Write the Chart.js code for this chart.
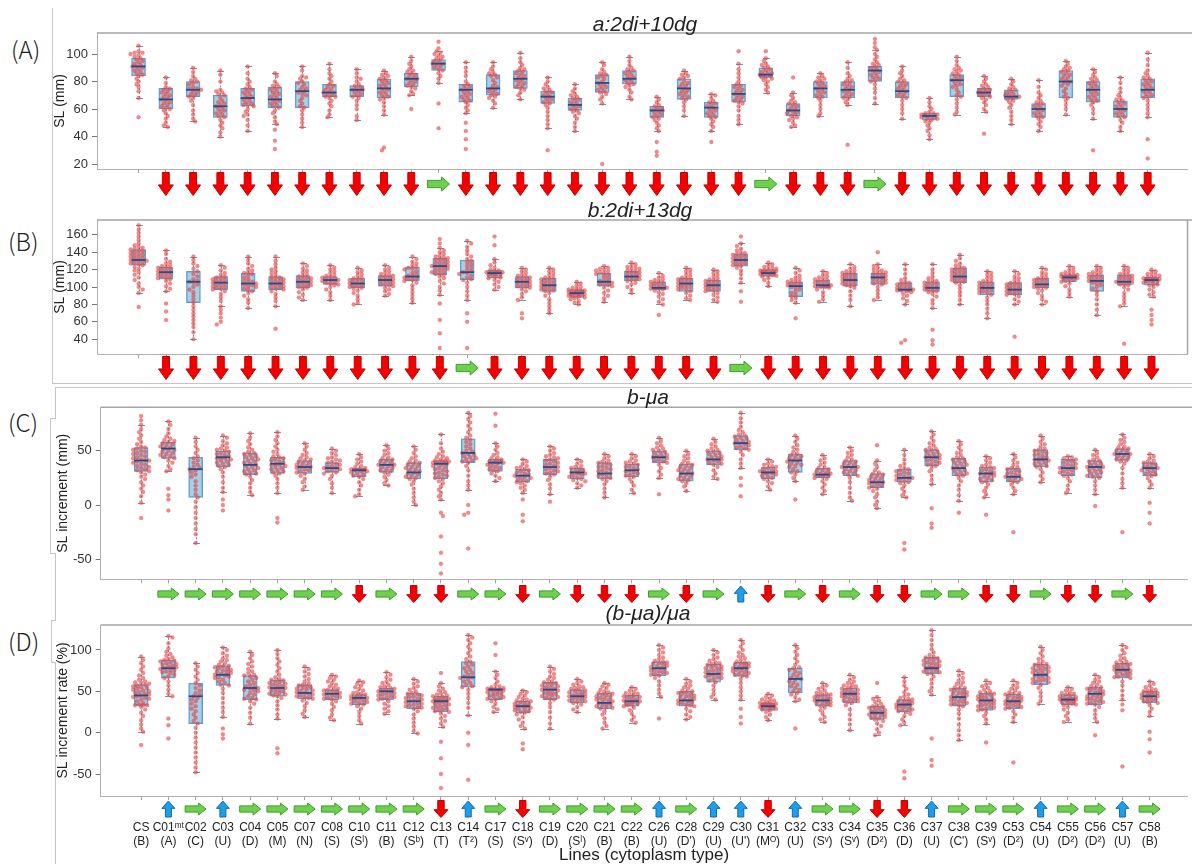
<!DOCTYPE html>
<html>
<head>
<meta charset="utf-8">
<script src="https://cdn.jsdelivr.net/npm/chart.js@4.4.1/dist/chart.umd.min.js"></script>
<style>
  html, body { margin: 0; padding: 0; background: #fff; }
  body { width: 1192px; height: 864px; position: relative; overflow: hidden; font-family: "Liberation Sans", Arial, sans-serif; }
  canvas { position: absolute; left: 0; }
  .plab { position: absolute; font-family: "Noto Sans CJK JP", "Noto Sans", sans-serif; font-weight: 300; font-size: 24px; color: #222; line-height: 1; }
  .ln { position: absolute; background: #c6c6c6; }
</style>
</head>
<body>
<div class="ln" style="left:52px;top:8px;width:1px;height:375px"></div>
<div class="ln" style="left:52px;top:383px;width:1140px;height:1px"></div>
<div class="ln" style="left:55px;top:387px;width:1137px;height:1px"></div>
<div class="ln" style="left:55px;top:387px;width:1px;height:31px"></div>
<div class="ln" style="left:50px;top:418px;width:6px;height:1px"></div>
<div class="ln" style="left:50px;top:418px;width:1px;height:135px"></div>
<div class="ln" style="left:50px;top:553px;width:6px;height:1px"></div>
<div class="ln" style="left:55px;top:553px;width:1px;height:67px"></div>
<div class="ln" style="left:51px;top:620px;width:5px;height:1px"></div>
<div class="ln" style="left:51px;top:620px;width:1px;height:42px"></div>
<div class="ln" style="left:51px;top:662px;width:5px;height:1px"></div>
<div class="ln" style="left:55px;top:662px;width:1px;height:202px"></div>

<div class="plab" style="left:11px;top:37px">(A)</div>
<div class="plab" style="left:8px;top:229px">(B)</div>
<div class="plab" style="left:8px;top:410px">(C)</div>
<div class="plab" style="left:8px;top:629px">(D)</div>

<canvas id="pA" width="1192" height="205" style="top:0px"></canvas>
<canvas id="pB" width="1192" height="195" style="top:195px"></canvas>
<canvas id="pC" width="1192" height="230" style="top:385px"></canvas>
<canvas id="pD" width="1192" height="272" style="top:600px"></canvas>

<script>
// Lines and their cytoplasm types
const cats = ['CS','C01ᵐᵗ','C02','C03','C04','C05','C07','C08','C10','C11','C12','C13','C14','C17','C18','C19','C20','C21','C22','C26','C28','C29','C30','C31','C32','C33','C34','C35','C36','C37','C38','C39','C53','C54','C55','C56','C57','C58'];
const cytoTypes = ['(B)','(A)','(C)','(U)','(D)','(M)','(N)','(S)','(Sˡ)','(B)','(Sᵇ)','(T)','(T²)','(S)','(Sᵛ)','(D)','(Sˡ)','(B)','(B)','(U)',"(D')",'(U)',"(U')",'(Mᴼ)','(U)','(Sᵛ)','(Sᵛ)','(D²)','(D)','(U)',"(C')",'(Sᵛ)','(D²)','(U)','(D²)','(D²)','(U)','(B)'];

// y tick values per panel
const ticksA = [20, 40, 60, 80, 100];
const ticksB = [40, 60, 80, 100, 120, 140, 160];
const ticksC = [-50, 0, 50];
const ticksD = [-50, 0, 50, 100];

// Arrow marks under each line: d = down, r = right, u = up
const arrowsA = ['','d','d','d','d','d','d','d','d','d','d','r','d','d','d','d','d','d','d','d','d','d','d','r','d','d','d','r','d','d','d','d','d','d','d','d','d','d'];
const arrowsB = ['','d','d','d','d','d','d','d','d','d','d','d','r','d','d','d','d','d','d','d','d','d','r','d','d','d','d','d','d','d','d','d','d','d','d','d','d','d'];
const arrowsC = ['','r','r','r','r','r','r','r','d','r','d','d','r','r','d','r','d','d','d','r','d','r','u','d','r','d','r','d','d','r','r','d','d','r','d','d','r','d'];
const arrowsD = ['','u','r','u','r','r','r','r','r','r','r','d','u','r','d','r','r','r','r','u','r','u','u','d','u','r','r','d','d','u','r','r','r','u','r','r','u','r'];

// (A) a: 2di+10dg, SL (mm): whisker ends, quartiles, medians
const lowA  = [68,47,51,40,44,49,47,54,52,56,70,79,57,61,67,46,44,64,67,44,55,44,49,72,47,55,63,64,53,38,56,58,49,44,56,53,44,54];
const q1A   = [84,60,69,54,62,61,61,69,69,68,76,88,65,70,75,64,59,72,78,54,67,54,65,83,55,68,68,80,68,52,69,69,67,54,68,65,54,68];
const medA  = [91,67,74,62,68,67,73,72,74,75,82,93,74,75,82,69,63,79,82,59,75,61,71,85,59,75,74,88,73,55,81,72,69,60,80,74,60,74];
const q3A   = [97,75,80,70,75,76,80,78,77,82,86,96,78,85,88,73,68,85,88,62,82,65,78,90,64,80,80,91,80,57,85,75,74,64,88,80,66,82];
const highA = [106,83,90,88,91,86,91,93,89,88,98,102,94,94,101,83,78,94,98,69,88,71,93,97,72,86,94,103,91,68,98,84,82,81,95,89,83,101];
const ptsA = [
  [106,102,101,101,100,99,98,97,96,95,94,93,92,91,91,90,89,88,87,86,85,84,82,80,78,76,73,68,54],
  [83,79,76,75,74,73,72,71,70,69,68,67,66,65,64,63,62,61,60,59,57,55,53,50,48,47],
  [90,87,84,82,81,80,79,78,76,75,75,74,73,72,71,70,69,68,66,63,59,56,53,51],
  [88,85,80,74,73,72,71,70,68,66,65,64,63,62,61,60,59,58,57,56,55,54,52,50,48,46,43,40],
  [91,86,82,80,78,76,75,74,73,72,71,70,69,68,67,66,65,64,63,63,62,60,58,56,55,52,48,44],
  [86,84,80,78,77,76,75,74,73,72,71,70,69,68,67,66,65,64,63,62,61,59,57,54,51,49,45,37,31],
  [91,88,84,83,82,80,79,78,76,75,74,73,72,71,70,68,66,64,62,61,59,56,53,50,47],
  [93,89,86,84,82,80,78,77,76,75,74,73,72,72,71,70,69,69,68,66,64,62,59,56,54],
  [89,86,83,82,80,78,77,76,75,74,74,73,72,71,70,69,68,66,63,60,55,52],
  [88,86,85,84,83,82,81,80,79,78,77,76,75,74,73,72,71,70,69,68,67,65,62,59,56,32,30],
  [98,95,93,91,89,88,87,86,85,84,83,82,82,81,80,79,78,77,76,75,73,71,70,60],
  [109,104,102,101,100,99,98,97,96,95,94,93,93,92,91,90,89,88,86,84,82,79,64,46],
  [94,90,87,84,80,78,77,76,75,74,73,72,71,70,69,68,67,66,65,63,61,59,57,50,44,38,31],
  [94,91,89,87,86,85,84,83,81,79,77,76,75,74,73,72,71,70,69,68,66,64,61],
  [101,97,94,92,90,89,88,87,86,85,84,83,82,81,80,79,78,77,76,75,74,72,70,67],
  [83,80,78,76,75,74,73,72,71,70,69,68,67,66,65,64,63,61,58,55,52,49,46,30],
  [78,75,73,71,70,69,68,67,66,65,64,63,62,61,60,59,58,57,55,53,50,47,44],
  [94,92,89,87,86,85,84,83,82,80,79,78,77,76,75,74,73,72,71,69,67,64,20],
  [98,95,92,90,89,88,87,86,85,84,83,82,81,80,79,78,77,76,74,72,69,67],
  [69,67,65,63,62,61,60,59,59,58,57,56,55,54,53,52,50,48,46,44,36,29,26],
  [88,86,85,84,83,82,80,79,78,77,76,75,74,73,72,71,70,69,68,67,65,62,59,55],
  [71,70,68,66,65,64,63,62,61,60,59,58,57,56,55,54,53,51,49,47,44,36],
  [102,93,89,86,83,80,78,77,76,75,74,73,72,71,70,69,68,67,66,65,64,62,59,55,52,49],
  [102,97,95,93,92,91,90,89,88,87,86,86,85,85,84,83,83,82,81,80,78,76,74,72],
  [83,72,70,68,66,65,64,63,62,61,60,59,58,58,57,56,55,54,53,52,50,48,47],
  [86,84,83,82,81,80,79,78,77,76,75,74,73,72,71,70,69,68,66,63,60,57,55],
  [94,90,86,84,82,81,80,79,78,77,76,75,74,73,72,71,70,69,68,67,65,63,34],
  [111,108,105,103,100,98,96,94,93,92,91,90,89,88,87,86,85,84,83,82,81,80,78,75,72,68,64],
  [91,88,86,84,82,81,80,79,78,77,76,75,74,73,72,71,70,69,68,66,63,60,57,53],
  [68,65,62,60,58,57,57,56,56,55,55,54,54,53,53,52,51,50,48,46,44,41,38],
  [98,95,92,90,89,88,87,86,85,84,83,82,81,80,79,78,77,76,74,72,70,69,67,64,61,58,56],
  [84,82,80,78,77,76,75,74,74,73,72,72,71,70,70,69,68,67,65,63,60,58,42],
  [82,80,78,76,75,74,73,72,71,70,70,69,69,68,67,66,65,63,61,58,55,52,49],
  [81,76,72,70,68,66,65,64,63,62,61,60,59,58,57,56,55,54,53,51,49,47,44],
  [95,93,91,90,89,88,87,86,85,84,83,82,81,80,79,78,77,75,73,71,69,68,66,63,60,56],
  [89,87,85,83,82,81,80,79,78,77,76,75,74,73,72,71,70,69,68,67,66,65,63,60,57,53,30],
  [83,79,75,72,70,68,67,66,65,64,63,62,61,60,59,58,57,56,55,54,52,50,47,44],
  [101,96,92,88,86,84,83,82,81,80,79,78,77,76,75,74,73,72,71,70,69,68,66,63,60,57,54,38,24]
];

// (B) b: 2di+13dg, SL (mm)
const lowB  = [93,95,40,78,76,78,85,85,80,90,82,91,85,97,85,70,80,83,93,80,85,83,105,101,82,83,78,85,80,76,80,64,80,80,89,68,78,89];
const q1B   = [125,109,82,97,95,97,99,103,99,101,107,114,108,110,99,95,88,101,107,97,95,95,124,112,89,99,101,103,95,95,105,91,91,99,106,95,102,102];
const medB  = [131,117,106,105,104,104,106,108,104,108,112,124,117,116,106,102,93,106,112,99,104,102,131,116,101,102,108,111,97,99,112,99,97,103,111,107,106,108];
const q3B   = [143,123,118,112,116,112,113,112,110,113,123,133,131,119,112,110,97,116,118,106,110,108,138,120,106,108,116,116,105,106,122,106,105,110,114,114,114,111];
const highB = [171,142,135,125,135,135,127,125,122,125,135,145,153,132,122,122,106,124,128,116,122,120,150,128,122,118,126,126,126,126,137,118,118,122,124,124,124,120];
const ptsB = [
  [171,166,162,158,154,150,148,146,145,144,143,142,141,140,139,138,137,136,135,134,133,132,131,130,130,129,128,127,126,125,123,121,119,117,114,111,108,104,100,97,93,77],
  [142,138,132,129,127,125,124,123,122,121,120,119,118,117,116,115,114,113,112,111,110,109,107,104,101,98,95,81,72,62],
  [135,131,127,124,121,118,115,112,109,107,106,105,103,100,97,94,90,86,82,78,74,70,66,62,58,54,48,40],
  [125,122,119,116,114,112,111,110,109,108,107,106,105,104,103,102,101,100,99,98,97,95,92,88,84,78,74,70,65,60,57],
  [135,131,127,124,121,119,117,116,115,113,111,109,107,106,105,104,103,102,101,100,98,97,95,93,90,86,82,76],
  [135,130,126,122,120,118,116,114,112,111,110,109,108,107,106,105,104,103,102,101,100,99,98,97,95,92,88,84,78,52],
  [127,124,121,119,117,115,113,112,111,110,109,108,107,106,105,104,103,102,101,100,99,97,94,91,88,85],
  [125,122,120,118,116,114,113,112,111,110,109,108,108,107,106,105,104,103,102,100,97,94,90,85],
  [122,119,117,115,113,111,110,109,108,107,106,105,104,103,102,101,100,99,98,96,93,90,86,82,80],
  [125,122,120,118,116,115,114,113,112,111,110,109,108,107,106,105,104,103,102,101,99,97,95,92,90],
  [135,132,129,127,125,123,122,121,120,118,116,114,113,112,111,110,109,108,107,105,102,98,94,90,86,82],
  [155,150,145,142,140,138,136,135,134,133,132,131,130,129,128,127,126,125,124,124,123,122,121,120,119,118,117,116,115,114,112,110,107,104,100,96,91,81,62,47,30],
  [153,150,146,142,138,135,132,130,128,126,124,122,120,118,117,116,115,113,111,109,108,105,100,95,90,85,70,60,30],
  [158,148,132,128,125,122,120,119,118,117,117,116,116,115,115,114,113,112,111,110,108,106,103,100,97],
  [122,120,118,116,114,113,112,111,110,109,108,107,106,105,104,103,102,101,100,99,97,95,92,88,85,70,64],
  [122,120,118,116,114,112,111,110,109,108,107,106,105,104,103,102,101,100,99,98,97,96,95,93,90,86,82,78,74,70],
  [106,104,102,100,99,98,97,96,96,95,95,94,94,93,93,92,92,91,91,90,90,89,88,87,86,84,82,80],
  [124,122,121,120,119,118,117,116,115,114,112,110,108,107,106,105,104,103,102,101,99,96,93,90,87,83],
  [128,126,124,123,122,121,120,119,118,117,116,115,114,113,112,111,110,109,108,107,105,103,100,97,93],
  [116,113,111,109,108,107,106,105,104,103,102,101,100,99,99,98,97,96,94,92,89,86,83,80,68],
  [122,120,118,116,114,112,111,110,109,108,107,106,105,104,103,102,101,100,99,98,97,95,93,90,87,85],
  [120,118,116,114,112,110,109,108,107,106,105,104,103,102,101,100,99,98,97,96,95,93,91,88,85,83],
  [158,150,147,144,142,140,139,138,137,136,135,134,133,132,131,130,129,128,127,126,125,124,122,119,115,110,105,95,83],
  [128,126,124,123,122,121,120,119,119,118,118,117,117,116,116,115,115,114,114,113,112,110,108,105,101],
  [122,119,116,113,111,109,108,107,106,105,104,103,102,101,100,99,97,95,93,91,89,87,85,82,64],
  [118,116,114,112,111,110,109,108,107,106,105,104,103,102,102,101,101,100,100,99,97,94,90,86,83],
  [126,123,121,119,118,117,116,115,114,113,112,111,110,109,108,107,106,105,104,103,102,101,99,95,90,85,78],
  [140,126,124,122,120,119,118,117,116,115,114,113,112,111,110,109,108,107,106,105,104,103,100,96,92,88,85],
  [126,120,115,110,108,106,105,104,103,102,101,100,99,98,97,97,96,96,95,94,92,90,87,84,80,39,36],
  [126,120,116,112,110,108,107,106,105,104,103,102,101,100,99,98,97,96,95,94,92,89,85,81,76,51,39,34],
  [137,133,130,127,125,123,122,121,120,119,118,117,116,115,114,113,112,111,110,109,108,107,106,105,102,98,94,90,85,80],
  [118,116,114,112,110,108,107,106,105,104,103,102,101,100,99,98,97,96,95,94,93,91,88,84,80,75,70,64],
  [118,115,112,110,108,106,105,104,103,102,101,100,99,98,97,96,95,94,93,92,91,89,86,83,80,43],
  [122,120,117,115,113,111,110,109,108,107,106,105,104,103,102,101,100,99,98,96,93,90,86,83,80],
  [124,122,120,118,117,116,115,114,114,113,113,112,112,111,111,110,110,109,108,107,106,104,101,97,93,89],
  [124,122,120,118,117,116,115,114,113,112,111,110,109,108,107,106,105,104,102,100,98,95,91,86,80,74,68],
  [124,122,120,118,116,115,114,113,112,111,110,109,108,107,106,106,105,104,103,102,100,97,93,89,85,81,78,35],
  [120,118,116,115,114,113,112,111,110,110,109,109,108,108,107,107,106,105,104,103,102,100,97,94,91,89,74,68,62,57]
];

// (C) b - μa, SL increment (mm)
const lowC  = [2,31,-35,12,9,11,14,11,8,18,0,5,14,22,11,10,16,7,11,25,13,24,34,14,22,10,4,-3,7,19,4,7,10,21,11,10,16,16];
const q1C   = [31,43,7,35,28,29,29,30,26,30,24,24,39,31,21,28,24,24,26,39,22,37,51,24,30,25,27,16,21,36,27,21,21,35,27,25,41,27];
const medC  = [41,52,33,44,37,38,35,34,32,37,30,38,48,39,27,35,30,29,32,44,29,42,57,30,41,28,35,21,25,44,34,29,26,42,34,35,47,34];
const q3C   = [53,58,44,50,48,44,41,39,34,42,39,41,61,42,33,42,34,39,38,50,38,50,64,35,47,34,41,29,33,51,43,35,34,51,42,41,52,39];
const highC = [74,77,62,64,66,67,57,52,47,55,54,65,85,57,42,54,42,47,47,62,50,61,85,42,64,46,53,41,51,68,59,45,47,64,45,51,65,47];
const ptsC = [
  [82,78,74,70,67,64,61,58,56,54,53,52,51,50,49,48,47,46,45,44,43,42,41,41,40,39,38,37,36,35,34,33,32,31,30,28,26,24,21,18,15,12,8,2,-12],
  [77,74,70,66,63,61,60,59,58,57,56,55,54,53,52,51,50,49,48,47,46,45,44,43,41,39,36,33,31,15,9,5,-5],
  [62,58,54,51,48,45,43,41,39,37,35,34,33,32,30,28,26,22,18,14,10,7,3,-2,-7,-12,-17,-22,-27,-35],
  [64,62,59,57,55,53,52,51,50,49,48,47,46,45,44,43,43,42,41,40,39,38,37,36,35,33,30,26,21,16,12,5,0,-5],
  [66,62,59,56,53,51,49,48,47,46,45,44,43,42,41,40,39,38,37,36,35,34,33,32,31,30,29,28,26,23,20,16,12,9],
  [67,63,60,57,54,51,49,47,45,44,43,42,41,40,39,38,37,37,36,35,34,33,32,31,30,29,27,24,20,16,11,-12,-16],
  [57,54,51,48,46,44,43,42,41,40,39,38,37,36,35,35,34,33,32,31,30,29,27,24,21,17,14],
  [52,50,48,46,44,43,42,41,40,39,38,37,36,35,34,34,33,32,31,30,29,27,24,20,16,11],
  [47,44,42,40,38,36,35,34,33,33,32,32,31,31,30,29,28,27,26,24,21,18,14,10,8],
  [55,52,50,48,46,44,43,42,41,40,39,38,37,37,36,35,34,33,32,31,30,28,26,23,20,18],
  [54,51,48,45,43,41,40,39,38,37,36,35,34,33,32,31,30,29,28,27,26,25,24,22,19,15,11,7,3,0],
  [65,57,52,49,47,45,44,43,42,41,41,40,40,39,39,38,38,37,36,35,34,33,32,31,30,29,28,27,26,25,24,22,20,17,14,11,8,5,-7,-10,-29,-44,-54,-63],
  [85,82,79,76,73,70,67,64,62,60,58,56,54,52,50,49,48,47,46,45,44,43,42,41,40,39,36,32,27,22,18,14,0,-7,-9,-40],
  [84,73,57,54,51,48,46,44,43,42,41,40,40,39,39,38,37,36,35,34,33,32,31,29,27,25,22],
  [42,40,38,36,35,34,33,32,31,30,29,28,27,27,26,25,24,23,22,21,20,18,16,14,11,5,-9,-15],
  [54,52,50,48,46,45,44,43,42,41,40,39,38,37,36,35,34,33,32,31,30,29,28,26,23,19,15,10,3],
  [42,40,38,36,35,34,33,32,31,30,30,29,29,28,27,26,25,24,23,22,20,18,16],
  [47,45,43,41,40,39,38,37,36,35,34,33,32,31,30,29,28,27,26,25,24,22,19,15,11,7],
  [47,45,43,41,40,39,38,37,36,35,34,33,32,31,30,29,28,27,26,24,21,18,14,11],
  [62,59,57,55,53,52,51,50,49,48,47,46,45,44,44,43,42,41,40,39,37,34,31,28,25,10],
  [50,47,45,43,41,39,38,37,36,35,34,33,32,31,30,29,28,27,26,25,24,23,22,20,17,13],
  [61,58,56,54,52,51,50,49,48,47,46,45,44,43,42,42,41,40,39,38,37,35,32,29,26,24],
  [85,80,76,72,69,67,65,64,63,62,61,60,59,58,57,57,56,55,54,53,52,51,49,46,42,38,34,25,18,8],
  [42,40,38,37,36,35,34,33,32,31,31,30,30,29,29,28,27,26,25,24,22,20,17,14],
  [64,61,58,55,53,51,49,47,46,45,44,43,42,41,40,39,38,37,36,35,33,31,30,28,25,22,5],
  [46,43,41,39,37,35,34,33,32,31,30,29,29,28,28,27,27,26,25,24,22,19,16,13,10],
  [53,50,48,46,44,42,41,40,39,38,37,36,35,35,34,33,32,31,30,29,28,27,25,21,16,11,7,4],
  [55,41,38,35,32,30,29,28,27,26,25,24,23,22,21,21,20,19,18,17,16,15,13,10,7,3,0,-3],
  [51,46,42,38,36,34,33,32,31,30,29,28,27,26,25,25,24,23,22,21,20,18,15,12,9,7,-35,-41],
  [68,65,62,59,57,55,53,52,51,50,49,48,47,46,45,44,44,43,42,41,40,39,38,37,36,34,31,27,23,19,-3,-17,-21],
  [59,56,53,50,48,46,44,43,42,41,40,39,38,37,36,35,34,33,32,31,30,29,28,27,25,22,18,14,9,4,-7],
  [45,43,41,39,37,36,35,34,33,32,31,30,29,29,28,27,26,25,24,23,22,21,19,16,13,10,7,-9],
  [47,44,41,39,37,35,34,33,32,31,30,29,28,27,26,26,25,24,23,22,21,19,16,13,10,-25],
  [64,61,58,56,54,52,51,50,49,48,47,46,45,44,43,42,42,41,40,39,38,37,36,35,33,30,27,24,21],
  [45,44,43,42,41,40,39,38,37,36,35,34,34,33,32,31,30,29,28,27,25,22,18,14,11],
  [51,48,46,44,42,41,40,39,38,37,36,35,35,34,33,32,31,30,29,28,27,26,25,22,18,14,10,-1],
  [65,62,60,58,56,54,53,52,51,50,49,48,47,47,46,45,44,43,42,41,40,38,34,29,24,20,16,-25],
  [47,45,43,41,40,39,38,37,36,35,34,34,33,32,31,30,29,28,27,25,22,19,16,2,-7,-17]
];

// (D) (b - μa)/μa, SL increment rate (%)
const lowD  = [1,44,-48,19,11,17,19,15,11,23,-1,7,21,25,5,5,25,5,12,43,16,40,40,15,38,13,3,-3,9,46,-9,11,13,35,13,13,40,20];
const q1D   = [33,66,11,57,40,44,41,40,34,40,29,25,55,40,24,40,36,29,32,69,32,61,68,27,48,32,36,16,25,71,32,27,29,58,34,34,66,36];
const medD  = [45,78,44,70,54,54,48,47,42,50,38,38,67,52,32,52,44,36,38,78,39,71,78,32,65,39,47,24,34,78,43,39,38,70,40,47,76,44];
const q3D   = [58,88,60,81,69,64,58,52,46,54,48,44,86,54,38,61,52,48,45,86,50,83,85,36,78,46,54,32,40,91,54,48,47,83,46,55,84,50];
const highD = [92,117,84,103,98,100,80,70,63,73,65,60,118,74,51,80,65,60,55,106,65,100,112,47,106,60,70,43,67,124,75,63,63,104,55,70,106,62];
const ptsD = [
  [92,88,84,80,76,72,69,66,64,62,61,60,59,58,57,56,55,54,53,52,51,50,49,48,47,46,45,44,43,42,41,40,38,36,34,33,33,33,31,28,24,20,15,10,5,1,-15],
  [117,115,108,102,98,95,93,91,89,88,87,86,85,84,83,82,81,80,79,78,77,76,75,74,73,72,70,68,66,62,57,52,47,44,17,9,-7],
  [84,80,76,72,68,64,60,57,54,51,48,46,44,42,40,38,35,32,29,26,22,18,14,11,6,0,-6,-12,-18,-24,-30,-36,-42,-48],
  [103,100,96,93,90,88,86,84,82,81,80,79,78,77,76,75,74,73,72,71,70,69,68,67,66,64,62,60,58,57,53,48,42,36,30,25,19,5,-2,-7],
  [98,94,90,86,83,80,77,74,72,70,69,68,66,64,62,60,58,56,55,54,53,52,51,50,48,46,44,42,41,40,38,35,30,24,18,11],
  [100,95,90,86,82,78,74,70,67,65,64,63,62,61,60,59,58,57,56,55,54,53,52,51,50,49,48,47,46,45,44,42,38,33,28,22,17,-19,-25],
  [80,77,74,71,68,65,62,60,58,57,56,55,54,53,52,51,50,49,48,47,46,45,44,43,42,41,39,36,32,27,23,19],
  [70,68,66,64,62,60,58,56,54,53,52,51,50,49,48,47,46,45,44,43,42,41,40,38,35,31,27,22,18,15],
  [63,61,59,57,55,53,51,49,48,47,46,45,44,43,42,42,41,40,39,38,37,36,35,34,32,29,25,20,15,11],
  [73,70,67,64,62,60,58,56,55,54,53,52,51,50,49,48,47,46,45,44,43,42,41,40,38,35,32,29,26,23],
  [65,62,59,56,54,52,50,48,47,46,45,44,43,42,41,40,39,38,37,36,35,34,33,32,31,30,29,26,22,17,12,7,2,-1],
  [72,60,56,53,51,49,47,46,45,44,43,42,41,40,40,39,39,38,38,37,36,35,34,33,32,31,30,29,28,27,26,25,23,20,17,14,11,7,-11,-31,-50,-67],
  [118,115,112,108,104,100,96,92,89,86,84,82,80,78,76,74,72,70,68,67,66,64,62,60,58,56,55,52,47,42,36,30,21,0,-15,-57],
  [108,94,74,70,66,62,58,56,55,54,53,53,52,52,51,50,49,48,47,46,45,44,43,42,41,40,38,35,31,28,25],
  [51,49,47,45,43,41,40,39,38,37,36,35,34,33,32,32,31,30,29,28,27,26,25,24,22,19,16,12,8,5,-13,-20],
  [80,77,74,71,68,66,64,62,61,60,59,58,57,56,55,54,53,52,51,50,49,48,47,46,45,44,43,42,41,40,36,31,25,18,11,5],
  [65,62,60,58,56,55,54,53,52,51,50,49,48,47,46,45,44,44,43,42,41,40,39,38,37,36,34,31,28,25],
  [60,58,56,54,52,50,49,48,47,46,45,44,43,42,41,40,39,38,37,36,35,34,33,32,31,30,29,26,22,17,12,8,5],
  [55,53,51,49,48,47,46,45,44,43,42,41,40,39,38,37,37,36,35,34,33,32,30,27,23,19,15,12],
  [106,103,100,97,94,91,89,87,86,85,84,83,82,81,80,79,78,77,76,75,74,73,72,71,70,69,66,62,57,52,47,43,17],
  [65,62,59,57,55,53,51,50,49,48,47,46,45,44,43,42,41,40,39,38,37,36,35,34,33,32,29,26,22,19,16],
  [100,97,94,91,89,87,85,84,83,82,81,80,79,78,77,76,75,74,73,72,71,70,69,68,67,66,65,63,61,57,52,47,43,40],
  [112,108,104,100,97,94,92,90,88,86,85,84,83,82,81,80,79,78,78,77,76,75,74,73,72,71,70,69,68,65,60,55,50,45,40,29,19,11],
  [47,45,43,41,40,39,38,37,36,35,35,34,34,33,33,32,32,31,31,30,30,29,28,27,25,22,19,15],
  [106,102,98,94,90,86,82,79,78,76,74,72,70,68,66,65,64,62,60,58,56,54,52,50,48,46,43,40,38,5],
  [60,57,55,53,51,49,48,47,46,45,44,43,42,41,40,39,39,38,37,36,35,34,33,32,30,27,23,19,16,13],
  [70,67,64,62,60,58,57,56,55,54,53,52,51,50,49,48,47,47,46,45,44,43,42,41,40,39,38,37,36,33,28,22,16,10,3],
  [60,43,41,39,37,35,33,32,31,30,29,28,27,26,25,24,24,23,22,21,20,19,18,17,16,14,11,8,4,0,-3],
  [67,62,57,53,49,46,44,42,41,40,39,38,37,36,35,34,34,33,32,31,30,29,28,27,26,25,23,20,16,12,9,-47,-55],
  [124,118,112,106,101,97,94,92,91,90,89,88,87,86,85,84,83,82,81,80,79,78,78,77,76,75,74,73,72,71,68,64,59,54,50,46,-7,-33,-40],
  [75,72,69,66,63,61,59,57,55,54,53,52,51,50,49,48,47,46,45,44,43,42,41,40,39,38,37,36,35,34,33,32,28,23,17,10,3,-3,-9],
  [63,60,58,56,54,52,50,49,48,47,46,45,44,43,42,41,40,39,39,38,37,36,35,34,33,32,31,30,29,28,27,24,20,16,11,-12],
  [63,60,57,55,53,51,49,48,47,46,45,44,43,42,41,40,39,38,38,37,36,35,34,33,32,31,30,29,26,22,18,13,-36],
  [104,100,96,92,89,86,84,83,82,81,80,79,78,77,76,75,74,73,72,71,70,69,68,67,66,65,64,63,62,61,60,58,54,49,44,39,35],
  [55,53,51,49,48,47,46,45,44,43,42,41,41,40,40,39,39,38,37,36,35,34,33,31,28,24,20,16,13],
  [70,67,64,62,60,58,56,55,54,53,52,51,50,49,48,47,46,45,44,43,42,41,40,39,38,37,36,35,34,31,27,22,17,13,-3],
  [106,103,100,96,93,90,88,86,85,84,83,82,81,80,79,78,77,76,76,75,74,73,72,71,70,69,68,67,66,62,57,51,45,40,34,27,-41],
  [62,59,57,55,53,52,51,50,49,48,47,46,46,45,44,44,43,42,41,40,39,38,37,36,33,29,25,20,1,-8,-24]
];

const FONT = '"Liberation Sans", Arial, sans-serif';

// Beeswarm: horizontal pixel offsets so dots with close values sit side by side
function swarmOffsets(ys, maxOff) {
  const D = 3.4, step = 2.0;
  const order = ys.map((_, i) => i).sort((a, b) => ys[a] - ys[b]);
  const placed = [];
  const off = new Array(ys.length).fill(0);
  for (const i of order) {
    const y = ys[i];
    let chosen = null, bestScore = -1, bestC = 0;
    for (let k = 0; k * step <= maxOff; k++) {
      const cs = k === 0 ? [0] : (placed.length % 2 ? [k * step, -k * step] : [-k * step, k * step]);
      for (const c of cs) {
        let m = Infinity;
        for (const p of placed) {
          const dy = p.y - y;
          if (Math.abs(dy) < D) m = Math.min(m, Math.hypot(p.x - c, dy));
        }
        if (m >= D) { chosen = c; break; }
        if (m > bestScore) { bestScore = m; bestC = c; }
      }
      if (chosen !== null) break;
    }
    if (chosen === null) chosen = bestC;
    off[i] = chosen;
    placed.push({ x: chosen, y });
  }
  return off;
}

const swarmPlugin = {
  id: 'swarm',
  beforeDatasetsDraw(chart) {
    const meta = chart.getDatasetMeta(1);
    const raw = chart.data.datasets[1].data;
    const xs = chart.scales.x;
    const groups = {};
    meta.data.forEach((el, j) => { (groups[raw[j].x] = groups[raw[j].x] || []).push(el); });
    for (const k in groups) {
      const els = groups[k];
      const base = xs.getPixelForValue(+k);
      const offs = swarmOffsets(els.map(e => e.y), 8);
      els.forEach((e, i) => { e.x = base + offs[i]; });
    }
  }
};

// Whiskers under the boxes, medians on top
const boxPlugin = {
  id: 'boxPlot',
  beforeDatasetsDraw(chart, args, o) {
    const { ctx, scales: { x, y } } = chart;
    ctx.save();
    ctx.strokeStyle = '#7d93ab';
    ctx.lineWidth = 1;
    for (let i = 0; i < o.low.length; i++) {
      const px = Math.round(x.getPixelForValue(i)) + 0.5;
      const yl = y.getPixelForValue(o.low[i]), y1 = y.getPixelForValue(o.q1[i]);
      const y3 = y.getPixelForValue(o.q3[i]), yh = y.getPixelForValue(o.high[i]);
      ctx.setLineDash([2, 2]);
      ctx.beginPath();
      ctx.moveTo(px, y3); ctx.lineTo(px, yh);
      ctx.moveTo(px, y1); ctx.lineTo(px, yl);
      ctx.stroke();
      ctx.setLineDash([]);
      ctx.beginPath();
      ctx.moveTo(px - 3.5, Math.round(yh) + 0.5); ctx.lineTo(px + 3.5, Math.round(yh) + 0.5);
      ctx.moveTo(px - 3.5, Math.round(yl) + 0.5); ctx.lineTo(px + 3.5, Math.round(yl) + 0.5);
      ctx.stroke();
    }
    ctx.restore();
  },
  afterDatasetsDraw(chart, args, o) {
    const { ctx, scales: { x, y } } = chart;
    ctx.save();
    ctx.strokeStyle = '#2b4a84';
    ctx.lineWidth = 1.8;
    for (let i = 0; i < o.med.length; i++) {
      const px = x.getPixelForValue(i), py = y.getPixelForValue(o.med[i]);
      ctx.beginPath();
      ctx.moveTo(px - 7, py); ctx.lineTo(px + 7, py);
      ctx.stroke();
    }
    ctx.restore();
  }
};

function arrowShape(ctx, dir, cx, cy, w, h) {
  ctx.beginPath();
  if (dir === 'd' || dir === 'u') {
    const sw = w * 0.46, hh = h * 0.46, s = dir === 'd' ? 1 : -1;
    const t = cy - s * h / 2, b = cy + s * h / 2, n = b - s * hh;
    ctx.moveTo(cx - sw / 2, t); ctx.lineTo(cx + sw / 2, t); ctx.lineTo(cx + sw / 2, n);
    ctx.lineTo(cx + w / 2, n); ctx.lineTo(cx, b); ctx.lineTo(cx - w / 2, n);
    ctx.lineTo(cx - sw / 2, n);
  } else {
    const sh = h * 0.52, hl = w * 0.36;
    const l = cx - w / 2, r = cx + w / 2, n = r - hl;
    ctx.moveTo(l, cy - sh / 2); ctx.lineTo(n, cy - sh / 2); ctx.lineTo(n, cy - h / 2);
    ctx.lineTo(r, cy); ctx.lineTo(n, cy + h / 2); ctx.lineTo(n, cy + sh / 2);
    ctx.lineTo(l, cy + sh / 2);
  }
  ctx.closePath();
}

const ARROW_STYLE = {
  d: { fill: '#f40000', stroke: '#c40000' },
  r: { fill: '#70cf4c', stroke: '#36a02c' },
  u: { fill: '#1e9de8', stroke: '#1569ad' }
};

// Frame lines, panel title and arrow row
const decorPlugin = {
  id: 'decor',
  afterDraw(chart, args, o) {
    const { ctx, chartArea: a, scales: { x } } = chart;
    ctx.save();
    ctx.strokeStyle = '#a4a4a4';
    ctx.lineWidth = 1.5;
    ctx.beginPath();
    ctx.moveTo(a.left, a.top); ctx.lineTo(chart.width, a.top);
    if (o.rightBorder) { ctx.moveTo(a.right, a.top); ctx.lineTo(a.right, a.bottom); }
    ctx.stroke();

    ctx.fillStyle = '#222';
    ctx.font = 'italic 21px ' + FONT;
    ctx.textAlign = 'center';
    ctx.textBaseline = 'middle';
    ctx.fillText(o.title, o.titleX, o.titleY);

    ctx.lineWidth = 1;
    o.arrows.forEach((d, i) => {
      if (!d) return;
      const sz = o.size[d];
      arrowShape(ctx, d, x.getPixelForValue(i), o.arrowY, sz[0], sz[1]);
      ctx.fillStyle = ARROW_STYLE[d].fill;
      ctx.strokeStyle = ARROW_STYLE[d].stroke;
      ctx.fill();
      ctx.stroke();
    });
    ctx.restore();
  }
};

function panel(c) {
  const left = c.padLeft + c.yWidth, right = 1192 - c.padRight;
  const unit = (c.p37 - c.p0) / 37;
  const xMin = -(c.p0 - left) / unit, xMax = 37 + (right - c.p37) / unit;
  return new Chart(document.getElementById(c.id), {
    type: 'bar',
    data: {
      datasets: [
        {
          type: 'bar',
          data: cats.map((_, i) => ({ x: i, y: [c.q1[i], c.q3[i]] })),
          backgroundColor: 'rgba(128,186,222,0.7)',
          borderColor: 'rgba(90,150,196,0.95)',
          borderWidth: 1,
          borderSkipped: false,
          barThickness: 14,
          order: 2
        },
        {
          type: 'scatter',
          data: c.pts.flatMap((arr, i) => arr.map(v => ({ x: i, y: v }))),
          pointRadius: 2.0,
          pointBackgroundColor: 'rgba(228,70,70,0.62)',
          pointBorderColor: 'rgba(215,60,60,0.35)',
          pointBorderWidth: 0.5,
          order: 1
        }
      ]
    },
    options: {
      responsive: false,
      animation: false,
      events: [],
      layout: { padding: { left: c.padLeft, top: c.padTop, right: c.padRight, bottom: c.padBottom || 0 } },
      plugins: {
        legend: { display: false },
        tooltip: { enabled: false },
        boxPlot: { low: c.low, q1: c.q1, med: c.med, q3: c.q3, high: c.high },
        decor: { title: c.title, titleX: c.titleX, titleY: c.titleY, arrows: c.arrows, arrowY: c.arrowY, size: c.arrowSize, rightBorder: !!c.rightBorder }
      },
      scales: {
        x: {
          type: 'linear',
          min: xMin,
          max: xMax,
          offset: false,
          afterBuildTicks: s => { s.ticks = cats.map((_, i) => ({ value: i })); },
          afterFit: s => { s.height = c.xHeight; },
          grid: { display: true, offset: false, drawOnChartArea: false, drawTicks: true, tickLength: 4, color: '#a0a0a0' },
          border: { display: true, color: '#b0b0b0', width: 1 },
          ticks: {
            display: !!c.showLabels,
            autoSkip: false,
            maxRotation: 0,
            minRotation: 0,
            padding: 21,
            color: '#222',
            font: { size: 12, family: FONT, lineHeight: 1.15 },
            callback: v => [cats[v], cytoTypes[v]]
          },
          title: {
            display: !!c.xTitle,
            text: c.xTitle || '',
            color: '#222',
            font: { size: 17, family: FONT, lineHeight: 1.1 },
            padding: { top: 0, bottom: 0 }
          }
        },
        y: {
          min: c.yMin,
          max: c.yMax,
          afterBuildTicks: s => { s.ticks = c.ticks.map(v => ({ value: v })); },
          afterFit: s => { s.width = c.yWidth; },
          grid: { drawOnChartArea: false, drawTicks: true, tickLength: 5, color: '#777' },
          border: { display: true, color: '#b0b0b0', width: 1 },
          ticks: { padding: 4, color: '#333', font: { size: 13, family: FONT } },
          title: {
            display: true,
            text: c.yTitle,
            color: '#222',
            font: { size: 14, family: FONT },
            padding: { top: 0, bottom: 0 }
          }
        }
      }
    },
    plugins: [swarmPlugin, boxPlugin, decorPlugin]
  });
}

const bigArrows = { d: [15, 23], r: [22, 14], u: [14, 20] };
const smallArrows = { d: [14, 17], r: [21, 12], u: [13, 16] };

panel({
  id: 'pA', padLeft: 52, yWidth: 45, padTop: 33, padRight: 0, xHeight: 36,
  p0: 138.7, p37: 1152, yMin: 16.4, yMax: 115.3, ticks: ticksA,
  yTitle: 'SL (mm)', title: 'a:2di+10dg', titleX: 645, titleY: 25,
  arrows: arrowsA, arrowY: 184, arrowSize: bigArrows,
  low: lowA, q1: q1A, med: medA, q3: q3A, high: highA, pts: ptsA
});
panel({
  id: 'pB', padLeft: 52, yWidth: 45, padTop: 25, padRight: 4, xHeight: 36,
  p0: 138.7, p37: 1152, yMin: 23.1, yMax: 176.9, ticks: ticksB,
  yTitle: 'SL (mm)', title: 'b:2di+13dg', titleX: 640, titleY: 16,
  arrows: arrowsB, arrowY: 173, arrowSize: bigArrows, rightBorder: true,
  low: lowB, q1: q1B, med: medB, q3: q3B, high: highB, pts: ptsB
});
panel({
  id: 'pC', padLeft: 55, yWidth: 45.7, padTop: 22.3, padRight: 0, xHeight: 35.7,
  p0: 141.3, p37: 1154, yMin: -68.4, yMax: 90, ticks: ticksC,
  yTitle: 'SL increment (mm)', title: 'b-μa', titleX: 648, titleY: 13,
  arrows: arrowsC, arrowY: 209, arrowSize: smallArrows,
  low: lowC, q1: q1C, med: medC, q3: q3C, high: highC, pts: ptsC
});
panel({
  id: 'pD', padLeft: 55, yWidth: 45.7, padTop: 25, padRight: 0, padBottom: 7, xHeight: 69,
  p0: 141.3, p37: 1154, yMin: -76.6, yMax: 130.2, ticks: ticksD,
  yTitle: 'SL increment rate (%)', title: '(b-μa)/μa', titleX: 648, titleY: 14,
  arrows: arrowsD, arrowY: 209, arrowSize: smallArrows, showLabels: true,
  xTitle: 'Lines (cytoplasm type)',
  low: lowD, q1: q1D, med: medD, q3: q3D, high: highD, pts: ptsD
});
</script>
</body>
</html>
